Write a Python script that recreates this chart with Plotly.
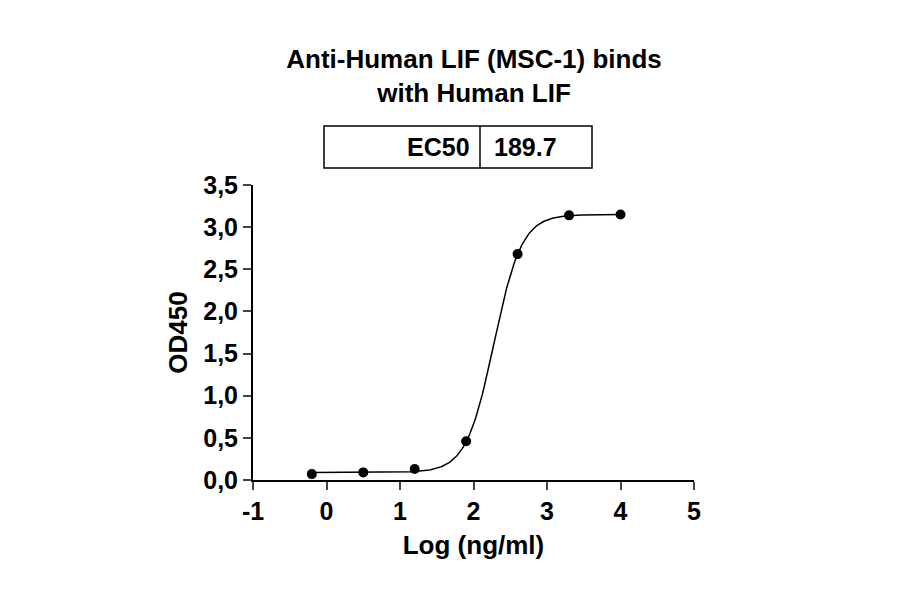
import numpy as np
import plotly.graph_objects as go

# measured points
log_conc = [-0.2, 0.5, 1.2, 1.9, 2.6, 3.3, 4.0]
od450 = [0.07, 0.09, 0.13, 0.46, 2.68, 3.14, 3.15]

# 4PL fit parameters
bottom, top, ec50, hill = 0.09, 3.15, 189.7, 2.3
xfit = np.linspace(-0.2, 4.0, 300)
yfit = bottom + (top - bottom) / (1 + 10 ** ((np.log10(ec50) - xfit) * hill))

xticks = [-1, 0, 1, 2, 3, 4, 5]
yticks = [0, 0.5, 1, 1.5, 2, 2.5, 3, 3.5]
ytext = ["0,0", "0,5", "1,0", "1,5", "2,0", "2,5", "3,0", "3,5"]

W, H = 900, 594
L, R, T, B = 245, 214, 177, 122
PW, PH = W - L - R, H - T - B

def fx(p): return (p - L) / PW
def fy(p): return (H - B - p) / PH

font = dict(family="Liberation Sans, Arial", color="black")

fig = go.Figure()
fig.add_trace(go.Scatter(x=xfit, y=yfit, mode="lines", line=dict(color="black", width=1.5)))
fig.add_trace(go.Scatter(x=log_conc, y=od450, mode="markers", marker=dict(color="black", size=10)))

fig.update_layout(
    width=W, height=H, margin=dict(l=L, r=R, t=T, b=B, autoexpand=False),
    plot_bgcolor="white", paper_bgcolor="white", showlegend=False,
    font=font,
    title=dict(text="<b>Anti-Human LIF (MSC-1) binds<br>with Human LIF</b>",
               x=466 / W, xanchor="center", y=1 - 60 / H, yanchor="middle",
               font=dict(size=26, **font)),
    xaxis=dict(range=[-1, 5], tickvals=xticks, ticktext=["<b>%d</b>" % v for v in xticks],
               showgrid=False, zeroline=False, automargin=False,
               showline=True, linecolor="black", linewidth=2, ticks="outside", ticklen=8,
               tickwidth=2, tickfont=dict(size=25, **font),
               title=dict(text="<b>Log (ng/ml)</b>", font=dict(size=26, **font), standoff=12)),
    yaxis=dict(range=[0, 3.5], tickvals=yticks, ticktext=["<b>%s</b>" % s for s in ytext],
               showgrid=False, zeroline=False, automargin=False,
               showline=True, linecolor="black", linewidth=2, ticks="outside", ticklen=8,
               tickwidth=2, tickfont=dict(size=25, **font),
               title=dict(text="<b>OD450</b>", font=dict(size=26, **font), standoff=8)),
)

y0, y1 = fy(160), fy(118)
fig.add_shape(type="rect", xref="paper", yref="paper", x0=fx(316), x1=fx(584), y0=y0, y1=y1,
              line=dict(color="black", width=1.5))
fig.add_shape(type="line", xref="paper", yref="paper", x0=fx(472), x1=fx(472), y0=y0, y1=y1,
              line=dict(color="black", width=1.5))
fig.add_annotation(text="<b>EC50</b>", xref="paper", yref="paper", x=fx(464), y=fy(139),
                   xanchor="right", yanchor="middle", showarrow=False, font=dict(size=25, **font))
fig.add_annotation(text="<b>189.7</b>", xref="paper", yref="paper", x=fx(484), y=fy(139),
                   xanchor="left", yanchor="middle", showarrow=False, font=dict(size=25, **font))

fig.write_html("out.html")
